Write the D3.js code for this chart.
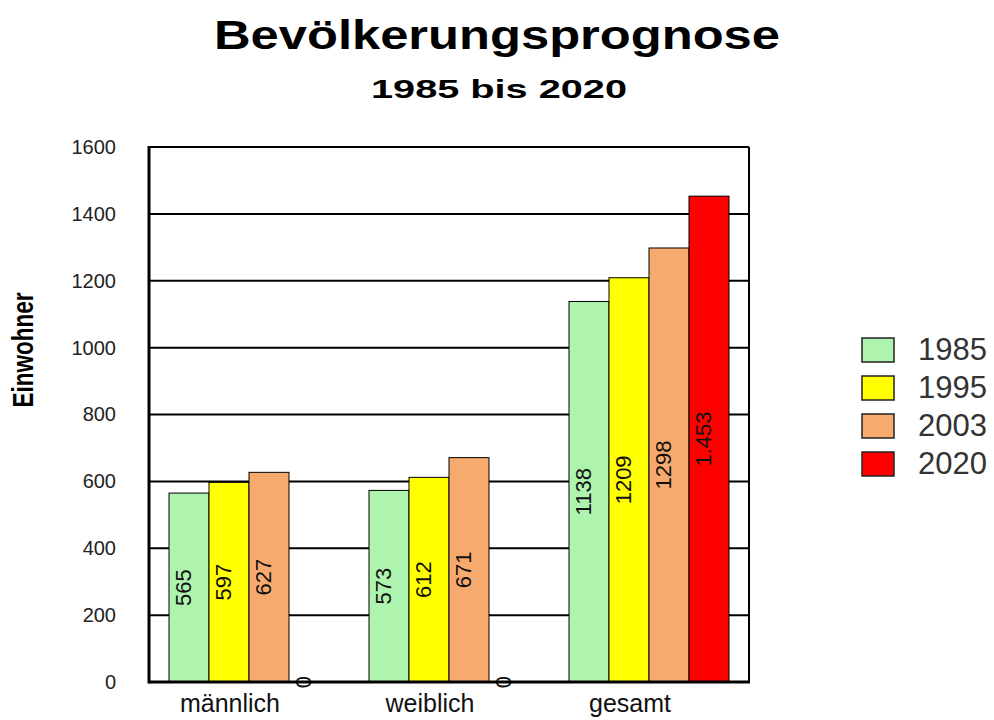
<!DOCTYPE html>
<html>
<head>
<meta charset="utf-8">
<script src="https://cdn.jsdelivr.net/npm/d3@7"></script>
<style>
  html, body { margin: 0; padding: 0; background: #fff; }
  svg { display: block; }
  text { font-family: "Liberation Sans", Arial, sans-serif; }
</style>
</head>
<body>
<svg id="chart" width="994" height="720"></svg>
<script>
// ---- data ----
const categories = ["männlich", "weiblich", "gesamt"];
const seriesNames = ["1985", "1995", "2003", "2020"];
const values1985 = [565, 573, 1138];
const values1995 = [597, 612, 1209];
const values2003 = [627, 671, 1298];
const values2020 = [0, 0, 1453];
const seriesColors = ["#aef3ae", "#ffff00", "#f7aa6e", "#ff0000"];
const yTickValues = [0, 200, 400, 600, 800, 1000, 1200, 1400, 1600];

const seriesValues = [values1985, values1995, values2003, values2020];
const deLocale = d3.formatLocale({decimal: ",", thousands: ".", grouping: [3], currency: ["", " €"]});
const seriesFormats = [d3.format("d"), d3.format("d"), d3.format("d"), deLocale.format(",d")];

const svg = d3.select("#chart");

const plot = {left: 149, right: 749, top: 147, bottom: 682};

const x0 = d3.scaleBand().domain(categories).range([plot.left, plot.right])
  .paddingInner(0.2).paddingOuter(0.1);
const x1 = d3.scaleBand().domain(seriesNames).range([0, x0.bandwidth()]).padding(0);
const y = d3.scaleLinear().domain([0, 1600]).range([plot.bottom, plot.top]);

// title
svg.append("text")
  .attr("x", 497).attr("y", 49)
  .attr("text-anchor", "middle")
  .attr("font-size", 41).attr("font-weight", "bold")
  .attr("textLength", 566).attr("lengthAdjust", "spacingAndGlyphs")
  .text("Bevölkerungsprognose");
svg.append("text")
  .attr("x", 499).attr("y", 98)
  .attr("text-anchor", "middle")
  .attr("font-size", 25).attr("font-weight", "bold")
  .attr("textLength", 256).attr("lengthAdjust", "spacingAndGlyphs")
  .text("1985 bis 2020");

// gridlines
svg.append("g").selectAll("line")
  .data(yTickValues.filter(d => d > 0 && d < 1600))
  .join("line")
  .attr("x1", plot.left).attr("x2", plot.right)
  .attr("y1", d => y(d)).attr("y2", d => y(d))
  .attr("stroke", "#000").attr("stroke-width", 2);

// plot border top/right
svg.append("line").attr("x1", plot.left).attr("x2", plot.right)
  .attr("y1", y(1600)).attr("y2", y(1600)).attr("stroke", "#000").attr("stroke-width", 2);
svg.append("line").attr("x1", plot.right).attr("x2", plot.right)
  .attr("y1", y(1600)).attr("y2", y(0)).attr("stroke", "#000").attr("stroke-width", 2);

// bars
const rows = [];
categories.forEach((c, ci) => {
  seriesNames.forEach((s, si) => {
    rows.push({cat: c, series: s, si: si, value: seriesValues[si][ci]});
  });
});

const barG = svg.append("g");
barG.selectAll("rect").data(rows).join("rect")
  .attr("x", d => x0(d.cat) + x1(d.series))
  .attr("y", d => y(d.value))
  .attr("width", x1.bandwidth())
  .attr("height", d => y(0) - y(d.value))
  .attr("fill", d => seriesColors[d.si])
  .attr("stroke", "#000").attr("stroke-width", 1);

// axes lines
svg.append("line").attr("x1", plot.left).attr("x2", plot.left)
  .attr("y1", y(1600) - 1).attr("y2", y(0) + 1.5).attr("stroke", "#000").attr("stroke-width", 3);
svg.append("line").attr("x1", plot.left).attr("x2", plot.right + 1)
  .attr("y1", y(0)).attr("y2", y(0)).attr("stroke", "#000").attr("stroke-width", 3);

// bar value labels (rotated)
barG.selectAll("text").data(rows).join("text")
  .attr("transform", d => {
    const bx = x0(d.cat) + x1(d.series) + 22;
    const by = (y(d.value) + y(0)) / 2;
    return `translate(${bx},${by}) rotate(-90)`;
  })
  .attr("text-anchor", "middle")
  .attr("font-size", 22)
  .attr("fill", "#111")
  .text(d => seriesFormats[d.si](d.value));

// y axis
const yAxis = d3.axisLeft(y).tickValues(yTickValues).tickSize(0).tickPadding(33)
  .tickFormat(d3.format("d"));
const yg = svg.append("g").attr("transform", `translate(${plot.left},0)`).call(yAxis);
yg.select(".domain").remove();
yg.selectAll("text").attr("font-size", 20).attr("fill", "#222")
  .attr("font-family", "'Liberation Sans', Arial, sans-serif");

// x axis
const xAxis = d3.axisBottom(x0).tickSize(0).tickPadding(12);
const xg = svg.append("g").attr("transform", `translate(0,${plot.bottom})`).call(xAxis);
xg.select(".domain").remove();
xg.selectAll("text").attr("font-size", 25).attr("fill", "#111")
  .attr("dx", -19)
  .attr("font-family", "'Liberation Sans', Arial, sans-serif");

// y axis title
svg.append("text")
  .attr("transform", "translate(33,350) rotate(-90)")
  .attr("text-anchor", "middle")
  .attr("font-size", 29).attr("font-weight", "bold")
  .attr("textLength", 115).attr("lengthAdjust", "spacingAndGlyphs")
  .text("Einwohner");

// legend
const legend = svg.append("g").attr("transform", "translate(862,338)");
const li = legend.selectAll("g").data(seriesNames).join("g")
  .attr("transform", (d, i) => `translate(0,${i * 38})`);
li.append("rect").attr("width", 32).attr("height", 24)
  .attr("fill", (d, i) => seriesColors[i])
  .attr("stroke", "#222").attr("stroke-width", 1.5);
li.append("text").attr("x", 56).attr("y", 22)
  .attr("font-size", 31).attr("fill", "#333")
  .text(d => d);
</script>
</body>
</html>
